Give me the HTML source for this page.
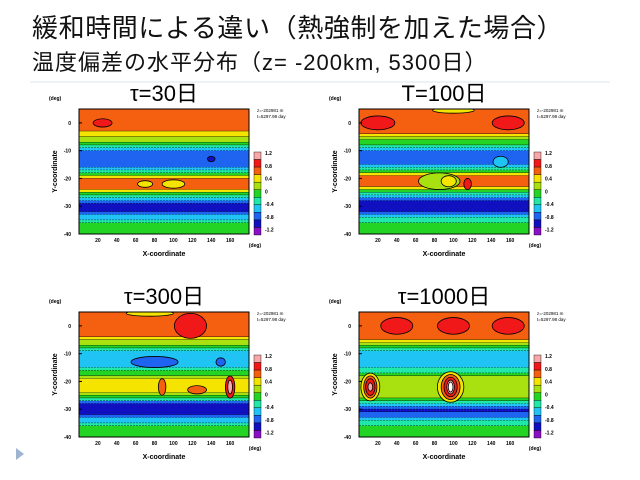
<!DOCTYPE html>
<html><head><meta charset="utf-8">
<style>
body{margin:0;background:#fff;}
#wrap{position:relative;width:640px;height:480px;overflow:hidden;font-family:"Liberation Sans","Noto Sans CJK JP",sans-serif;}
.t1{position:absolute;left:32px;top:8px;font-size:26px;letter-spacing:0.6px;color:#111;white-space:nowrap;}
.t2{position:absolute;left:32px;top:45px;font-size:22px;letter-spacing:1px;color:#111;white-space:nowrap;}
svg text{font-family:"Liberation Sans","Noto Sans CJK JP",sans-serif;}
</style></head><body>
<div id="wrap">
<div class="t1">緩和時間による違い（熱強制を加えた場合）</div>
<div class="t2">温度偏差の水平分布（z= -200km, 5300日）</div>
<svg id="sv" width="640" height="480" style="position:absolute;left:0;top:0">
<line x1="30" y1="82" x2="610" y2="82" stroke="#dde6f0" stroke-width="1"/>
<polygon points="16,448 16,460 24,454" fill="#9fb4d0"/>
</svg>
</div>
<script>
const COLORS=["#8a10c8","#1010c0","#1e64f0","#20c4f4","#20e8a8","#24d424","#a8e010","#f4e400","#f46010","#f01818","#f8a8a8","#ffffff"];
const latTicks=[0,-10,-20,-30,-40];
const lonTicks=[20,40,60,80,100,120,140,160];
const cbLabels=["1.2","0.8","0.4","0","-0.4","-0.8","-1.2"];
const titles=["τ=30日","T=100日","τ=300日","τ=1000日"];
const bands1=[[5,-3,8],[-3,-5,7],[-5,-7,6],[-7,-8,5],[-8,-9,4],[-9,-10,3],[-10,-16,2],[-16,-17,3],[-17,-18,4],[-18,-19,5],[-19,-20,7],[-20,-24,8],[-24,-25,7],[-25,-26,5],[-26,-27,4],[-27,-28,3],[-28,-29,2],[-29,-32,1],[-32,-33,2],[-33,-35,3],[-35,-36,4],[-36,-40,5]];
const blobs1=[[25,0,10,1.5,9],[100,-22,12,1.5,7],[70,-22,8,1.2,7],[140,-13,4,1,1]];
const bands2=[[5,-4,8],[-4,-5,7],[-5,-6,6],[-6,-8,5],[-8,-9,4],[-9,-10,3],[-10,-15,2],[-15,-16,3],[-16,-17,4],[-17,-18,5],[-18,-19,7],[-19,-23,8],[-23,-24,7],[-24,-25,5],[-25,-26,4],[-26,-27,3],[-27,-28,2],[-28,-32,1],[-32,-33,2],[-33,-34,3],[-34,-36,4],[-36,-40,5]];
const blobs2=[[20,0,18,2.5,9],[158,0,17,2.5,9],[100,4.5,22,1,7],[85,-21,22,3,6],[95,-21,8,2,7],[115,-22,4,2,9],[150,-14,8,2,3]];
const bands3=[[5,-4,8],[-4,-5,7],[-5,-7,6],[-7,-8,5],[-8,-9,4],[-9,-15,3],[-15,-16,4],[-16,-18,5],[-18,-19,6],[-19,-24,7],[-24,-25,6],[-25,-26,5],[-26,-27,4],[-27,-28,2],[-28,-32,1],[-32,-33,2],[-33,-35,3],[-35,-36,4],[-36,-40,5]];
const blobs3=[[118,0,17,4.5,9],[80,-13,25,2,2],[150,-13,5,1.5,2],[75,4.5,25,1,7],[88,-22,4,3,8],[125,-23,10,1.5,8],[160,-22,5,4,9],[160,-22,2.5,2.5,10]];
const bands4=[[5,-5,8],[-5,-6,7],[-6,-7,6],[-7,-8,5],[-8,-9,4],[-9,-15,3],[-15,-17,4],[-17,-18,5],[-18,-26,6],[-26,-27,5],[-27,-28,4],[-28,-29,3],[-29,-30,2],[-30,-31,1],[-31,-33,2],[-33,-34,3],[-34,-36,4],[-36,-40,5]];
const blobs4=[[40,0,17,3,9],[100,0,17,3,9],[158,0,17,3,9],[12,-22,10,5,7],[12,-22,7,4,8],[12,-22,5,3,9],[12,-22,2.5,1.5,10],[97,-22,14,5.5,7],[97,-22,10,4.5,8],[97,-22,7,3.5,9],[97,-22,4,2.5,10],[97,-22,2.5,1.8,11]];
const panels=[{x:79,y:109,b:bands1,o:blobs1},{x:359,y:109,b:bands2,o:blobs2},{x:79,y:312,b:bands3,o:blobs3},{x:359,y:312,b:bands4,o:blobs4}];
const sv=document.getElementById('sv');
const NS="http://www.w3.org/2000/svg";
function mk(tag,at,parent){const e=document.createElementNS(NS,tag);for(const k in at)e.setAttribute(k,at[k]);(parent||sv).appendChild(e);return e;}
const W=170,H=125;
panels.forEach((p,i)=>{
  const g=mk('g',{});
  
  
  const xs=v=>p.x+v/180*W, ys=v=>p.y+(5-v)/45*H;
  const cp=mk('clipPath',{id:'c'+i},g);mk('rect',{x:p.x,y:p.y,width:W,height:H},cp);
  const inner=mk('g',{'clip-path':'url(#c'+i+')'},g);
  p.b.forEach(b=>{const r=mk('rect',{x:p.x,y:ys(b[0]),width:W,height:ys(b[1])-ys(b[0])+0.5,fill:COLORS[b[2]]},inner);
    
    mk('line',{x1:p.x,x2:p.x+W,y1:ys(b[1]),y2:ys(b[1]),stroke:'#000','stroke-width':0.7,'stroke-dasharray':b[2]<5?'2,1':'none'},inner);});
  p.o.forEach(o=>{const e=mk('ellipse',{cx:xs(o[0]),cy:ys(o[1]),rx:o[2]/180*W,ry:o[3]/45*H,fill:COLORS[o[4]],stroke:'#000','stroke-width':0.8},inner);
    });
  mk('rect',{x:p.x,y:p.y,width:W,height:H,fill:'none',stroke:'#000','stroke-width':1},g);
  latTicks.forEach(t=>{mk('line',{x1:p.x,x2:p.x+3,y1:ys(t),y2:ys(t),stroke:'#000'},g);
    const tx=mk('text',{x:p.x-8,y:ys(t)+2,'font-size':5,'text-anchor':'end','font-weight':'bold'},g);tx.textContent=t;});
  lonTicks.forEach(t=>{const tx=mk('text',{x:xs(t),y:p.y+H+8,'font-size':5,'text-anchor':'middle','font-weight':'bold'},g);tx.textContent=t;});
  let t=mk('text',{x:p.x+W/2,y:p.y+H+22,'font-size':7,'text-anchor':'middle','font-weight':'bold'},g);t.textContent='X-coordinate';
  
  t=mk('text',{x:0,y:0,'font-size':7,'text-anchor':'middle','font-weight':'bold',transform:`translate(${p.x-22},${p.y+H/2}) rotate(-90)`},g);t.textContent='Y-coordinate';
  
  t=mk('text',{x:p.x+W+6,y:p.y+H+13,'font-size':5,'text-anchor':'middle','font-weight':'bold'},g);t.textContent='(deg)';
  t=mk('text',{x:p.x-30,y:p.y-9,'font-size':5,'font-weight':'bold'},g);t.textContent='(deg)';
  t=mk('text',{x:p.x+W+8,y:p.y+3,'font-size':4.5},g);t.textContent='z=-202981 m';
  t=mk('text',{x:p.x+W+8,y:p.y+9,'font-size':4.5},g);t.textContent='t=5297.98 day';
  t=mk('text',{x:p.x+W/2,y:p.y-8,'font-size':22,'text-anchor':'middle'},g);t.textContent=titles[i];
  
  const cbx=p.x+W+5,cby=p.y+43,sh=83/11;
  for(let k=0;k<11;k++){const r=mk('rect',{x:cbx,y:cby+k*sh,width:7,height:sh,fill:COLORS[10-k],stroke:'#000','stroke-width':0.4},g);
    }
  cbLabels.forEach((l,k)=>{const tx=mk('text',{x:cbx+11,y:cby+3+k*(83-sh/2)/6.2,'font-size':5,'font-weight':'bold'},g);tx.textContent=l;});
});
</script>
</body></html>
